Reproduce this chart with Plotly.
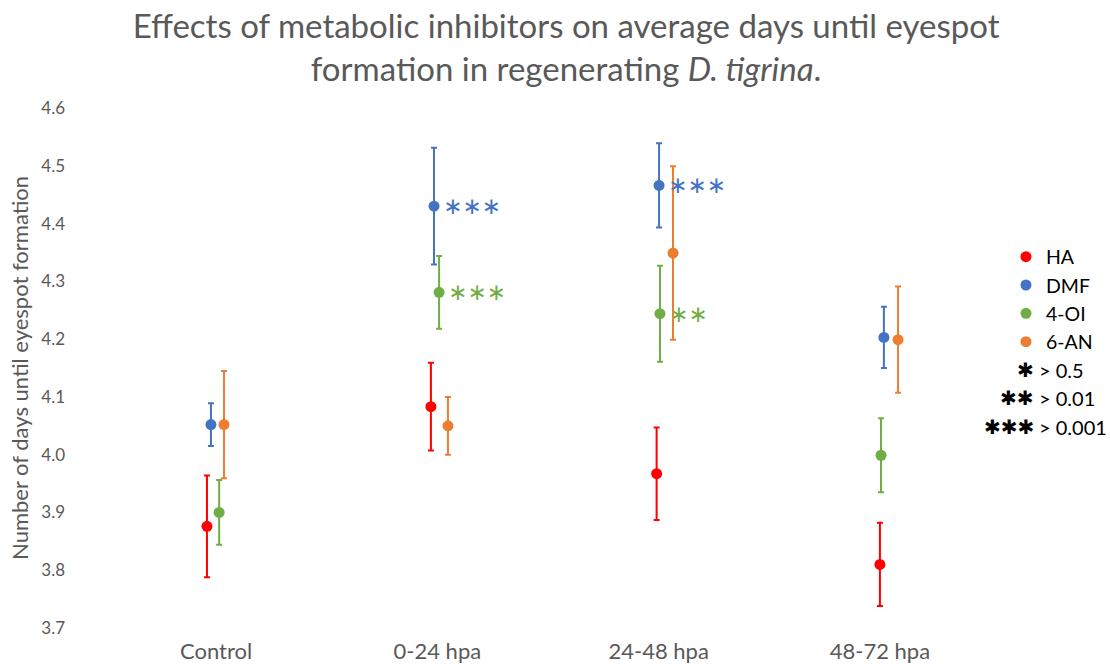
import plotly.graph_objects as go

categories = ["Control", "0-24 hpa", "24-48 hpa", "48-72 hpa"]
series_names = ["HA", "DMF", "4-OI", "6-AN"]
colors = ["#FF0000", "#4472C4", "#70AD47", "#ED7D31"]

# per-series x positions (category index + small jitter, as in the original)
ha_x = [0.959, 1.971, 2.991, 4.000]
dmf_x = [0.977, 1.985, 3.002, 4.018]
oi_x = [1.014, 2.008, 3.006, 4.005]
an_x = [1.036, 2.048, 3.065, 4.082]

ha_y = [3.876, 4.083, 3.967, 3.810]
dmf_y = [4.052, 4.430, 4.466, 4.203]
oi_y = [3.900, 4.281, 4.244, 3.999]
an_y = [4.052, 4.050, 4.349, 4.199]

ha_err = [0.088, 0.076, 0.080, 0.072]
dmf_err = [0.037, 0.101, 0.073, 0.053]
oi_err = [0.056, 0.063, 0.083, 0.064]
an_err = [0.093, 0.050, 0.150, 0.092]

# significance marks: (series index, category index, stars)
sig_marks = [(1, 1, "∗∗∗"), (2, 1, "∗∗∗"), (1, 2, "∗∗∗"), (2, 2, "∗∗")]
sig_legend_stars = ["✱", "✱✱", "✱✱✱"]
sig_legend_text = ["> 0.5", "> 0.01", "> 0.001"]

xs = [ha_x, dmf_x, oi_x, an_x]
ys = [ha_y, dmf_y, oi_y, an_y]
errs = [ha_err, dmf_err, oi_err, an_err]

FONT = "Lato"
GRAY = "#595959"

fig = go.Figure()
for name, c, x, y, e in zip(series_names, colors, xs, ys, errs):
    fig.add_trace(go.Scatter(
        x=x, y=y, mode="markers", name=name,
        marker=dict(color=c, size=11),
        error_y=dict(type="data", array=e, visible=True, color=c, thickness=2, width=3),
    ))

annotations = []
for si, ci, stars in sig_marks:
    annotations.append(dict(
        x=xs[si][ci], y=ys[si][ci], xref="x", yref="y", text=stars,
        showarrow=False, xanchor="left", yanchor="middle", xshift=7,
        font=dict(family="DejaVu Sans", size=23, color=colors[si]),
    ))

row_y = [0.496, 0.442, 0.3865]
for stars, txt, yy in zip(sig_legend_stars, sig_legend_text, row_y):
    annotations.append(dict(
        x=1.0465, y=yy, xref="paper", yref="paper", text=stars, showarrow=False,
        xanchor="right", yanchor="middle",
        font=dict(family="DejaVu Sans", size=20, color="#000000"),
    ))
    annotations.append(dict(
        x=1.047, y=yy, xref="paper", yref="paper", text=txt, showarrow=False,
        xanchor="left", yanchor="middle",
        font=dict(family=FONT, size=20, color="#000000"),
    ))

fig.update_layout(
    width=1110, height=664,
    margin=dict(l=66, r=117, t=108, b=36),
    paper_bgcolor="white", plot_bgcolor="white",
    title=dict(
        text="Effects of metabolic inhibitors on average days until eyespot<br>formation in regenerating <i>D. tigrina</i>.",
        x=0.51, xanchor="center", yref="container", y=0.943, yanchor="middle",
        font=dict(family=FONT, size=33, color=GRAY),
    ),
    xaxis=dict(
        range=[0.322, 4.511], tickvals=[1, 2, 3, 4], ticktext=categories,
        showgrid=False, zeroline=False, showline=False, ticks="",
        tickfont=dict(family=FONT, size=22, color=GRAY),
        ticklabelstandoff=8, automargin=False,
    ),
    yaxis=dict(
        range=[3.7, 4.6], dtick=0.1, tick0=3.7, tickformat=".1f",
        showgrid=False, zeroline=False, showline=False, ticks="",
        tickfont=dict(family=FONT, size=17, color=GRAY),
        automargin=False,
        title=dict(text="Number of days until eyespot formation",
                   font=dict(family=FONT, size=22, color=GRAY), standoff=6),
    ),
    legend=dict(
        x=1.014, y=0.751, xanchor="left", yanchor="top",
        font=dict(family=FONT, size=19.5, color="#000000"),
        bgcolor="rgba(0,0,0,0)", tracegroupgap=0,
    ),
    annotations=annotations,
)

fig.write_html("out.html")
